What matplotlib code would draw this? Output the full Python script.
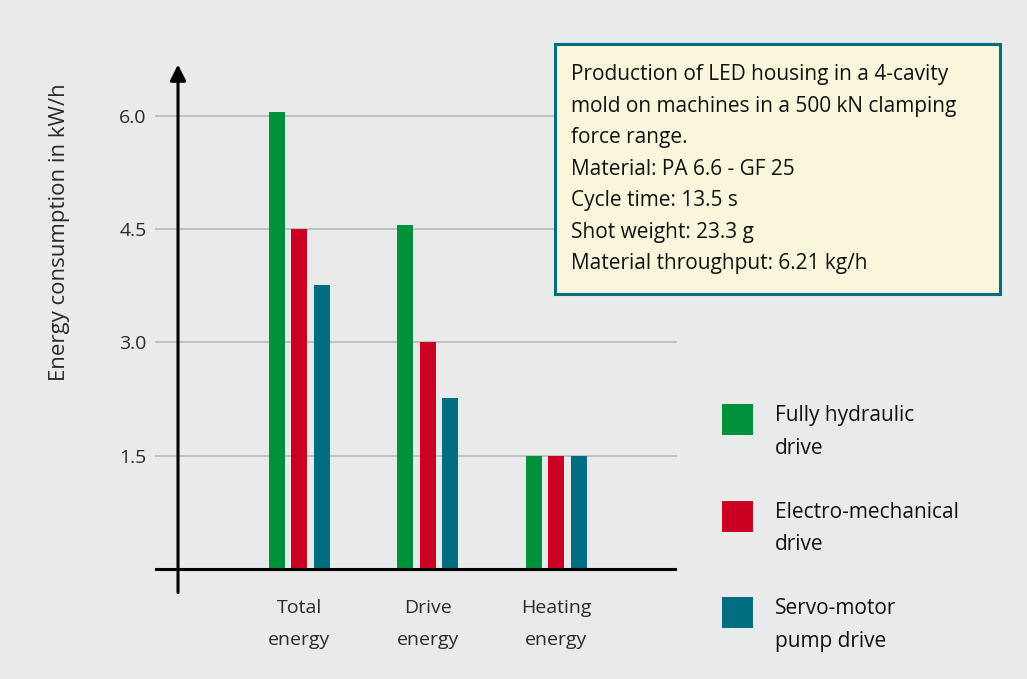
import matplotlib.pyplot as plt
from matplotlib.patches import Rectangle

plt.rcParams['font.family'] = ['Open Sans', 'DejaVu Sans']

# data
categories = ["Total\nenergy", "Drive\nenergy", "Heating\nenergy"]
series_names = ["Fully hydraulic\ndrive", "Electro-mechanical\ndrive", "Servo-motor\npump drive"]
hydraulic = [6.05, 4.55, 1.5]
electro = [4.5, 3.0, 1.5]
servo = [3.76, 2.26, 1.5]
yticks = [1.5, 3.0, 4.5, 6.0]
ytick_labels = ["1.5", "3.0", "4.5", "6.0"]
info_lines = [
    "Production of LED housing in a 4-cavity",
    "mold on machines in a 500 kN clamping",
    "force range.",
    "Material: PA 6.6 - GF 25",
    "Cycle time: 13.5 s",
    "Shot weight: 23.3 g",
    "Material throughput: 6.21 kg/h",
]

colors = ["#00913a", "#cc0022", "#006e80"]
bg = "#e9ebea"
W, H = 1027, 679

fig = plt.figure(figsize=(W / 100, H / 100), dpi=100)
fig.patch.set_facecolor(bg)

# axes placed in pixel terms
ax = fig.add_axes([155 / W, (H - 597) / H, (677 - 155) / W, (597 - 60) / H])
ax.set_facecolor(bg)
ax.set_xlim(-1.124, 2.938)
ax.set_ylim(-0.37, 6.74)
for s in ax.spines.values():
    s.set_visible(False)

bw = 0.1245
off = 0.175
xs = range(len(categories))
for i, (vals, c) in enumerate(zip([hydraulic, electro, servo], colors)):
    ax.bar([x + (i - 1) * off for x in xs], vals, width=bw, color=c, zorder=3)

ax.set_yticks(yticks)
ax.set_yticklabels(ytick_labels)
ax.tick_params(axis='y', length=0, pad=6, labelsize=14, labelcolor='#2a2a2a')
ax.set_xticks([])
for y in yticks:
    ax.axhline(y, color='#b4b6b5', lw=1.1, zorder=1)
ax.axhline(0, color='black', lw=2.2, zorder=4)

# y axis with arrow
ax.annotate("", xy=(-0.945, 6.68), xytext=(-0.945, -0.31),
            arrowprops=dict(arrowstyle='-|>', lw=2.2, color='black',
                            mutation_scale=24, shrinkA=0, shrinkB=0),
            zorder=5, annotation_clip=False)

# category labels
for x, lab in zip(xs, categories):
    ax.text(x, -0.4, lab, ha='center', va='top', fontsize=14, color='#2a2a2a',
            linespacing=1.95, clip_on=False)

fig.text(60 / W, 1 - 232 / H, "Energy consumption in kW/h", rotation=90,
         ha='center', va='center', fontsize=16, color='#2a2a2a')

# info box
fig.patches.append(Rectangle((555 / W, 1 - 294 / H), (1000 - 555) / W, (294 - 44) / H,
                             transform=fig.transFigure, facecolor='#faf6dc',
                             edgecolor='#006e80', lw=2.2, zorder=10))
fig.text(571 / W, 1 - 64 / H, "\n".join(info_lines), ha='left', va='top',
         fontsize=15, color='#111111', linespacing=1.66, zorder=11)

# legend
for k, (name, c) in enumerate(zip(series_names, colors)):
    top = 404 + k * 96.5
    fig.patches.append(Rectangle((722 / W, 1 - (top + 31) / H), 31 / W, 31 / H,
                                 transform=fig.transFigure, facecolor=c,
                                 edgecolor='none'))
    fig.text(775 / W, 1 - (top + 1) / H, name, ha='left', va='top', fontsize=15,
             color='#111111', linespacing=1.74)

fig.savefig("out.png", dpi=100, facecolor=bg)
